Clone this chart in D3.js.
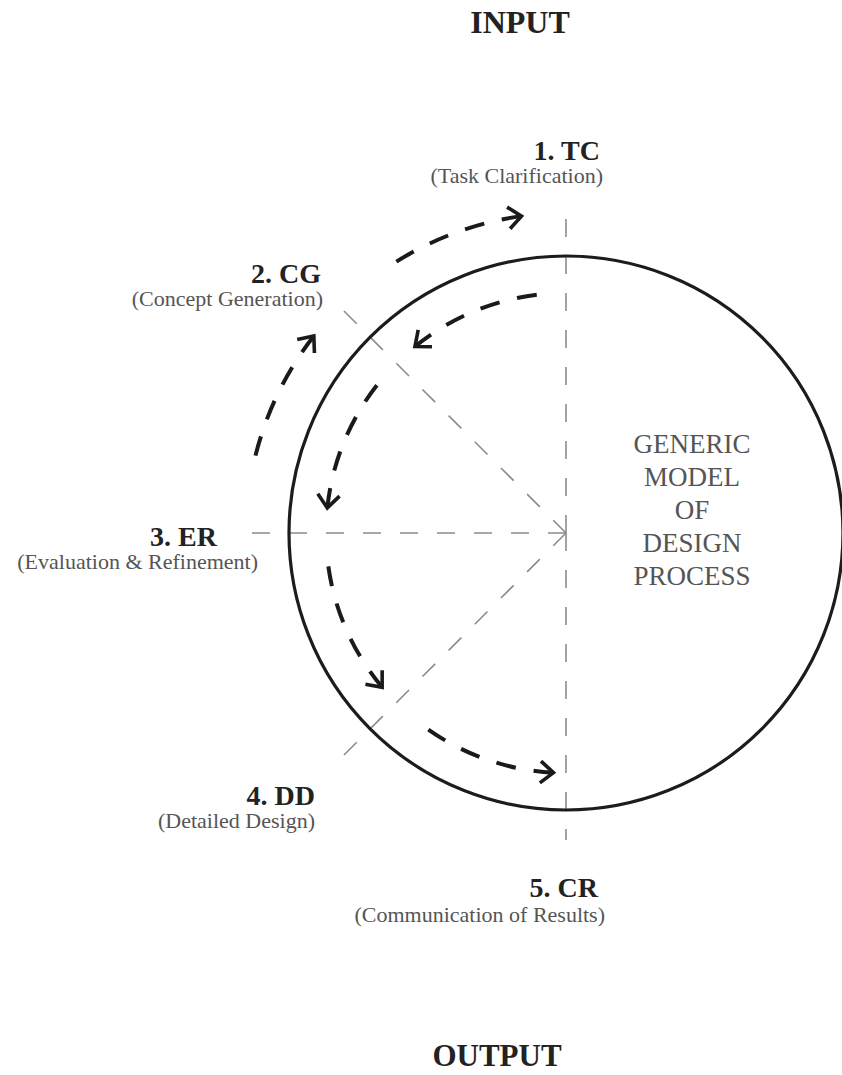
<!DOCTYPE html>
<html>
<head>
<meta charset="utf-8">
<script src="https://cdn.jsdelivr.net/npm/d3@7"></script>
<style>
  body { margin: 0; background: #fff; }
  text { font-family: "Liberation Serif", "DejaVu Serif", serif; }
</style>
</head>
<body>
<div id="chart-area"></div>
<script>
//stages of the design process
var stageCodes = ['1. TC', '2. CG', '3. ER', '4. DD', '5. CR'];
var stageNames = ['Task Clarification', 'Concept Generation', 'Evaluation & Refinement', 'Detailed Design', 'Communication of Results'];
//direction of each stage, degrees clockwise from the top
var stageAngles = [0, -45, -90, -135, 180];
//how far each dashed spoke reaches from the centre
var spokeLengths = [323, 326, 326, 330, 307];

//flow arrows, [start angle, end angle] in degrees
var outerFlow = [[-78, -52], [-35, -8]];
var innerFlow = [[-3, -39], [-49, -84], [-95, -130], [-141, -177]];

var centerWords = ['GENERIC', 'MODEL', 'OF', 'DESIGN', 'PROCESS'];
var inputLabel = 'INPUT';
var outputLabel = 'OUTPUT';

var width = 842,
    height = 1075;

var svg = d3.select('#chart-area').append('svg')
    .attr('width', width)
    .attr('height', height);

var cx = 566, cy = 533;

//degrees -> radians
var rad = d3.scaleLinear()
    .domain([0, 360])
    .range([0, 2 * Math.PI]);

//radius of each ring
var ring = d3.scaleOrdinal()
    .domain(['circle', 'inner', 'outer'])
    .range([277, 240, 320]);

function pt(deg, r) {
  var a = rad(deg);
  return [cx + r * Math.sin(a), cy - r * Math.cos(a)];
}

//dashed spokes
svg.selectAll('.spoke')
  .data(stageAngles)
  .enter().append('line')
    .attr('class', 'spoke')
    .attr('x1', cx)
    .attr('y1', cy)
    .attr('x2', function(d, i){ return pt(d, spokeLengths[i])[0]; })
    .attr('y2', function(d, i){ return pt(d, spokeLengths[i])[1]; })
    .attr('stroke', '#8c8c8c')
    .attr('stroke-width', 1.6)
    .attr('stroke-dasharray', '18,19');

//main circle
svg.append('circle')
  .attr('cx', cx)
  .attr('cy', cy)
  .attr('r', ring('circle'))
  .attr('fill', 'none')
  .attr('stroke', '#1c1c1c')
  .attr('stroke-width', 3.2);

//flow arrows (drawn from the tip backwards so a dash meets the head)
function flowPath(seg, r) {
  var p = d3.path();
  var tip = pt(seg[1], r);
  p.moveTo(tip[0], tip[1]);
  p.arc(cx, cy, r, rad(seg[1] - 90), rad(seg[0] - 90), seg[0] < seg[1]);
  return p.toString();
}

function headPath(seg, r) {
  var tip = pt(seg[1], r);
  var a = rad(seg[1]);
  var s = seg[1] > seg[0] ? 1 : -1;
  var back = [-s * Math.cos(a), -s * Math.sin(a)];
  var L = 17, h = rad(40);
  function rot(v, t) {
    return [v[0] * Math.cos(t) - v[1] * Math.sin(t), v[0] * Math.sin(t) + v[1] * Math.cos(t)];
  }
  var a1 = rot(back, h), a2 = rot(back, -h);
  return 'M' + (tip[0] + a1[0] * L) + ',' + (tip[1] + a1[1] * L) +
    'L' + tip[0] + ',' + tip[1] +
    'L' + (tip[0] + a2[0] * L) + ',' + (tip[1] + a2[1] * L);
}

var flows = outerFlow.map(function(s){ return { seg: s, ring: 'outer' }; })
  .concat(innerFlow.map(function(s){ return { seg: s, ring: 'inner' }; }));

var flowG = svg.selectAll('.flow')
  .data(flows)
  .enter().append('g')
    .attr('class', 'flow');

flowG.append('path')
  .attr('d', function(d){ return flowPath(d.seg, ring(d.ring)); })
  .attr('fill', 'none')
  .attr('stroke', '#1a1a1a')
  .attr('stroke-width', 4)
  .attr('stroke-dasharray', '20,18');

flowG.append('path')
  .attr('d', function(d){ return headPath(d.seg, ring(d.ring)); })
  .attr('fill', 'none')
  .attr('stroke', '#1a1a1a')
  .attr('stroke-width', 3.6)
  .attr('stroke-linejoin', 'miter');

//stage labels
var labelLayout = [
  { codeX: 600, codeY: 160, nameX: 603, nameY: 183 },
  { codeX: 321, codeY: 283, nameX: 323, nameY: 306 },
  { codeX: 217, codeY: 546, nameX: 258, nameY: 569 },
  { codeX: 315, codeY: 805, nameX: 315, nameY: 828 },
  { codeX: 598, codeY: 897, nameX: 605, nameY: 922 }
];

stageCodes.forEach(function(code, i){
  var pos = labelLayout[i];
  svg.append('text')
    .attr('x', pos.codeX)
    .attr('y', pos.codeY)
    .attr('text-anchor', 'end')
    .attr('font-size', '28px')
    .attr('font-weight', 'bold')
    .attr('fill', '#222')
    .text(code);

  svg.append('text')
    .attr('x', pos.nameX)
    .attr('y', pos.nameY)
    .attr('text-anchor', 'end')
    .attr('font-size', '22px')
    .attr('fill', '#555')
    .text('(' + stageNames[i] + ')');
});

//centre text
svg.selectAll('.center-word')
  .data(centerWords)
  .enter().append('text')
    .attr('class', 'center-word')
    .attr('x', 692)
    .attr('y', function(d, i){ return 453 + i * 33; })
    .attr('text-anchor', 'middle')
    .attr('font-size', '27px')
    .attr('fill', '#555')
    .text(function(d){ return d; });

//input / output
svg.append('text')
  .attr('x', 520)
  .attr('y', 33)
  .attr('text-anchor', 'middle')
  .attr('font-size', '32px')
  .attr('font-weight', 'bold')
  .attr('fill', '#222')
  .text(inputLabel);

svg.append('text')
  .attr('x', 497)
  .attr('y', 1066)
  .attr('text-anchor', 'middle')
  .attr('font-size', '31px')
  .attr('font-weight', 'bold')
  .attr('fill', '#222')
  .text(outputLabel);
</script>
</body>
</html>
